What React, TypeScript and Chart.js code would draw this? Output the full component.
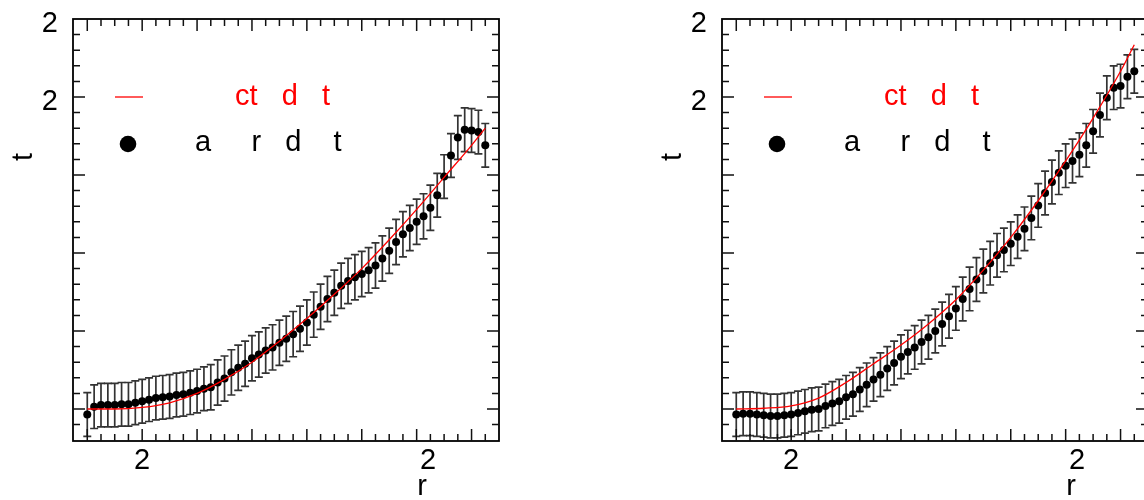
import React, { useEffect, useRef } from "react";
import { Chart, registerables } from "chart.js";

Chart.register(...registerables);

// ---------- data ----------
const radius = [
  0, 0.125, 0.25, 0.375, 0.5, 0.625, 0.75, 0.875, 1, 1.125, 1.25, 1.375, 1.5, 1.625, 1.75, 1.875,
  2, 2.125, 2.25, 2.375, 2.5, 2.625, 2.75, 2.875, 3, 3.125, 3.25, 3.375, 3.5, 3.625, 3.75, 3.875,
  4, 4.125, 4.25, 4.375, 4.5, 4.625, 4.75, 4.875, 5, 5.125, 5.25, 5.375, 5.5, 5.625, 5.75, 5.875,
  6, 6.125, 6.25, 6.375, 6.5, 6.625, 6.75, 6.875, 7, 7.125, 7.25,
];

const leftData = [
  -0.07, 0.03, 0.05, 0.05, 0.05, 0.06, 0.06, 0.08, 0.1, 0.12, 0.14, 0.15, 0.16, 0.18, 0.19, 0.21,
  0.23, 0.26, 0.28, 0.34, 0.39, 0.47, 0.53, 0.58, 0.65, 0.7, 0.75, 0.79, 0.85, 0.9, 0.96, 1.03,
  1.11, 1.21, 1.31, 1.41, 1.49, 1.58, 1.64, 1.69, 1.73, 1.78, 1.84, 1.93, 2.03, 2.14, 2.24, 2.32,
  2.4, 2.47, 2.58, 2.74, 2.98, 3.25, 3.48, 3.58, 3.57, 3.55, 3.38,
];
const leftErr = [
  0.28, 0.28, 0.28, 0.28, 0.28, 0.28, 0.28, 0.28, 0.28, 0.28, 0.28, 0.28, 0.28, 0.28, 0.28, 0.28,
  0.28, 0.28, 0.29, 0.29, 0.29, 0.29, 0.29, 0.29, 0.29, 0.29, 0.29, 0.29, 0.29, 0.29, 0.29, 0.29,
  0.29, 0.29, 0.29, 0.29, 0.29, 0.29, 0.29, 0.29, 0.29, 0.29, 0.29, 0.29, 0.29, 0.29, 0.29, 0.29,
  0.29, 0.29, 0.29, 0.28, 0.28, 0.28, 0.28, 0.28, 0.28, 0.28, 0.28,
];

const rightData = [
  -0.07, -0.06, -0.06, -0.07, -0.08, -0.09, -0.09, -0.08, -0.07, -0.05, -0.03, -0.01, 0.0, 0.04, 0.07, 0.1,
  0.15, 0.19, 0.25, 0.31, 0.38, 0.44, 0.52, 0.59, 0.67, 0.73, 0.79, 0.86, 0.92, 1.0, 1.09, 1.19,
  1.29, 1.41, 1.54, 1.66, 1.77, 1.87, 1.97, 2.04, 2.12, 2.21, 2.31, 2.45, 2.61, 2.77, 2.91, 3.03,
  3.12, 3.18, 3.26, 3.38, 3.56, 3.77, 3.99, 4.12, 4.14, 4.26, 4.33,
];
const rightErr = [
  0.28, 0.28, 0.28, 0.28, 0.28, 0.28, 0.28, 0.28, 0.28, 0.28, 0.28, 0.28, 0.28, 0.28, 0.28, 0.28,
  0.28, 0.28, 0.28, 0.28, 0.28, 0.28, 0.28, 0.28, 0.28, 0.28, 0.28, 0.28, 0.28, 0.28, 0.28, 0.28,
  0.28, 0.28, 0.28, 0.28, 0.28, 0.28, 0.28, 0.28, 0.28, 0.28, 0.28, 0.28, 0.28, 0.28, 0.28, 0.28,
  0.28, 0.28, 0.28, 0.28, 0.28, 0.28, 0.28, 0.28, 0.28, 0.28, 0.28,
];

const fitRadius = [0, 0.5, 1, 1.5, 2, 2.5, 3, 3.5, 4, 4.5, 5, 5.5, 6, 6.5, 7, 7.25];
const leftFit = [0, 0.0, 0.02, 0.08, 0.2, 0.38, 0.6, 0.87, 1.16, 1.47, 1.8, 2.17, 2.56, 2.97, 3.38, 3.6];
const rightFit = [0, 0.01, 0.04, 0.14, 0.34, 0.58, 0.82, 1.09, 1.4, 1.78, 2.2, 2.67, 3.18, 3.73, 4.33, 4.67];

// axis ticks / labels
const xRange = [-0.26, 7.5];
const yRange = [-0.41, 5];
const xMajorTicks = [0, 1, 2, 3, 4, 5, 6, 7];
const yMajorTicks = [0, 1, 2, 3, 4, 5];
const xMinorStep = 0.25;
const yMinorStep = 0.2;
const xLabelValues = [1, 6.21];
const xLabelTexts = ["2", "2"];
const yLabelValues = [5, 4];
const yLabelTexts = ["2", "2"];
const xTitle = "r";
const yTitle = "t";
const fitLegend = "ct   d   t";
const dataLegend = "a     r   d    t";

// ---------- drawing ----------
const FONT = '29px "Liberation Sans", Arial, Helvetica, sans-serif';

function decoPlugin(vals: number[], errs: number[]) {
  return {
    id: "deco",
    beforeDatasetsDraw(chart: any) {
      const ctx = chart.ctx;
      const xs = chart.scales.x;
      const ys = chart.scales.y;
      const a = chart.chartArea;
      ctx.save();
      ctx.beginPath();
      ctx.rect(a.left, a.top, a.right - a.left, a.bottom - a.top);
      ctx.clip();
      ctx.strokeStyle = "#333333";
      ctx.lineWidth = 1.7;
      for (let i = 0; i < vals.length; i++) {
        const px = xs.getPixelForValue(radius[i]);
        const y1 = ys.getPixelForValue(vals[i] + errs[i]);
        const y2 = ys.getPixelForValue(vals[i] - errs[i]);
        ctx.beginPath();
        ctx.moveTo(px, y1);
        ctx.lineTo(px, y2);
        ctx.moveTo(px - 4, y1);
        ctx.lineTo(px + 4, y1);
        ctx.moveTo(px - 4, y2);
        ctx.lineTo(px + 4, y2);
        ctx.stroke();
      }
      ctx.restore();
    },
    afterDraw(chart: any) {
      const ctx = chart.ctx;
      const xs = chart.scales.x;
      const ys = chart.scales.y;
      const a = chart.chartArea;
      ctx.save();
      // frame
      ctx.strokeStyle = "#000";
      ctx.lineWidth = 1.8;
      ctx.strokeRect(a.left, a.top, a.right - a.left, a.bottom - a.top);
      // ticks
      ctx.lineWidth = 1.5;
      ctx.strokeStyle = "#111";
      const drawX = (v: number, len: number) => {
        const p = xs.getPixelForValue(v);
        if (p < a.left + 1.5 || p > a.right - 1.5) return;
        ctx.beginPath();
        ctx.moveTo(p, a.bottom);
        ctx.lineTo(p, a.bottom - len);
        ctx.moveTo(p, a.top);
        ctx.lineTo(p, a.top + len);
        ctx.stroke();
      };
      const drawY = (v: number, len: number) => {
        const p = ys.getPixelForValue(v);
        if (p < a.top + 1.5 || p > a.bottom - 1.5) return;
        ctx.beginPath();
        ctx.moveTo(a.left, p);
        ctx.lineTo(a.left + len, p);
        ctx.moveTo(a.right, p);
        ctx.lineTo(a.right - len, p);
        ctx.stroke();
      };
      for (let v = Math.ceil(xRange[0] / xMinorStep) * xMinorStep; v <= xRange[1] + 1e-9; v += xMinorStep) {
        const isMajor = xMajorTicks.some((m) => Math.abs(m - v) < 1e-6);
        drawX(v, isMajor ? 12 : 7);
      }
      for (let v = Math.ceil(yRange[0] / yMinorStep) * yMinorStep; v <= yRange[1] + 1e-9; v += yMinorStep) {
        const isMajor = yMajorTicks.some((m) => Math.abs(m - v) < 1e-6);
        drawY(v, isMajor ? 12 : 7);
      }
      // tick labels
      ctx.fillStyle = "#000";
      ctx.font = FONT;
      ctx.textBaseline = "alphabetic";
      ctx.textAlign = "right";
      yLabelValues.forEach((v, i) => {
        ctx.fillText(yLabelTexts[i], a.left - 15, ys.getPixelForValue(v) + 12.5);
      });
      ctx.textAlign = "center";
      xLabelValues.forEach((v, i) => {
        ctx.fillText(xLabelTexts[i], xs.getPixelForValue(v), a.bottom + 28);
      });
      // axis titles
      ctx.fillText(xTitle, xs.getPixelForValue(6.1), a.bottom + 54);
      ctx.save();
      ctx.translate(a.left - 41.5, 157);
      ctx.rotate(-Math.PI / 2);
      ctx.textAlign = "center";
      ctx.fillText(yTitle, 0, 0);
      ctx.restore();
      // legend
      ctx.strokeStyle = "#ff0000";
      ctx.lineWidth = 1.3;
      ctx.beginPath();
      ctx.moveTo(a.left + 42, a.top + 78);
      ctx.lineTo(a.left + 70, a.top + 78);
      ctx.stroke();
      ctx.textAlign = "left";
      ctx.fillStyle = "#ff0000";
      ctx.fillText(fitLegend, a.left + 162, a.top + 86);
      ctx.fillStyle = "#000";
      ctx.beginPath();
      ctx.arc(a.left + 55, a.top + 125, 8.3, 0, Math.PI * 2);
      ctx.fill();
      ctx.fillText(dataLegend, a.left + 122, a.top + 132);
      ctx.restore();
    },
  };
}

function makeConfig(vals: number[], errs: number[], fit: number[]): any {
  return {
    type: "scatter",
    data: {
      datasets: [
        {
          data: fitRadius.map((x, i) => ({ x, y: fit[i] })),
          showLine: true,
          borderColor: "#ff0000",
          borderWidth: 1.3,
          pointRadius: 0,
          cubicInterpolationMode: "monotone",
          fill: false,
        },
        {
          data: radius.map((x, i) => ({ x, y: vals[i] })),
          pointRadius: 4,
          pointBackgroundColor: "#000",
          pointBorderWidth: 0,
          backgroundColor: "#000",
          borderColor: "#000",
        },
      ],
    },
    options: {
      responsive: false,
      animation: false,
      devicePixelRatio: 1,
      layout: { padding: { left: 73, right: 73, top: 19, bottom: 59 } },
      plugins: { legend: { display: false }, tooltip: { enabled: false } },
      scales: {
        x: { type: "linear", min: xRange[0], max: xRange[1], display: false },
        y: { type: "linear", min: yRange[0], max: yRange[1], display: false },
      },
    },
    plugins: [decoPlugin(vals, errs)],
  };
}

export default function App() {
  const leftRef = useRef<HTMLCanvasElement>(null);
  const rightRef = useRef<HTMLCanvasElement>(null);
  useEffect(() => {
    const c1 = new Chart(leftRef.current as HTMLCanvasElement, makeConfig(leftData, leftErr, leftFit));
    const c2 = new Chart(rightRef.current as HTMLCanvasElement, makeConfig(rightData, rightErr, rightFit));
    return () => {
      c1.destroy();
      c2.destroy();
    };
  }, []);
  return (
    <div
      style={{
        position: "absolute",
        left: 0,
        top: 0,
        width: 1144,
        height: 500,
        overflow: "hidden",
        background: "#fff",
      }}
    >
      <canvas
        ref={leftRef}
        width={572}
        height={500}
        style={{ position: "absolute", left: 0, top: 0, width: 572, height: 500 }}
      />
      <canvas
        ref={rightRef}
        width={572}
        height={500}
        style={{ position: "absolute", left: 649, top: 0, width: 572, height: 500 }}
      />
    </div>
  );
}
